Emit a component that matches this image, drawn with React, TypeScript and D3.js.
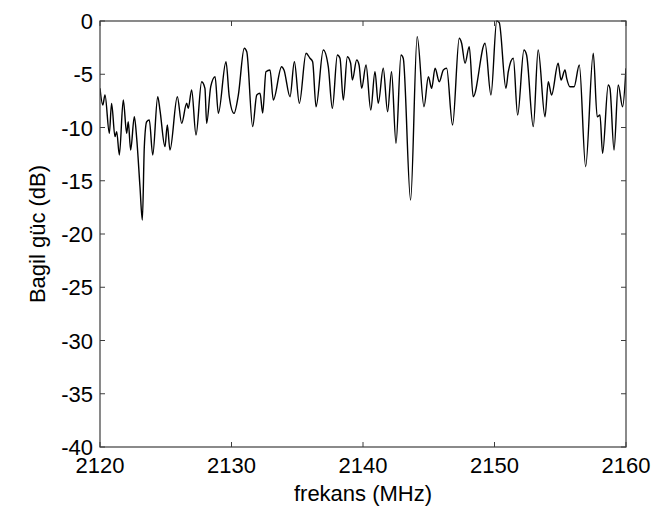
import React, { useEffect, useRef } from "react";
import * as d3 from "d3";

const freqMHz: number[] = [
  2120.0, 2120.21, 2120.38, 2120.71, 2120.88, 2121.14, 2121.27, 2121.47, 2121.77, 2122.03,
  2122.15, 2122.33, 2122.61, 2122.79, 2123.04, 2123.22, 2123.37, 2123.55, 2123.75, 2124.01,
  2124.39, 2124.56, 2124.94, 2125.12, 2125.32, 2125.88, 2126.21, 2126.59, 2126.71, 2126.97,
  2127.3, 2127.73, 2127.98, 2128.11, 2128.42, 2128.75, 2129.0, 2129.58, 2129.83, 2130.19,
  2130.52, 2130.97, 2131.16, 2131.61, 2131.92, 2132.17, 2132.37, 2132.62, 2132.93, 2133.18,
  2133.81, 2133.99, 2134.45, 2134.78, 2135.16, 2135.67, 2135.97, 2136.17, 2136.43, 2136.98,
  2137.36, 2137.67, 2138.05, 2138.25, 2138.5, 2138.81, 2139.06, 2139.19, 2139.52, 2139.7,
  2139.9, 2140.23, 2140.59, 2140.91, 2141.16, 2141.54, 2141.87, 2142.17, 2142.51, 2142.89,
  2143.06, 2143.62, 2144.12, 2144.64, 2144.97, 2145.22, 2145.48, 2145.8, 2146.11, 2146.36,
  2146.81, 2147.32, 2147.5, 2147.76, 2148.08, 2148.38, 2149.28, 2149.73, 2150.17, 2150.36,
  2150.87, 2151.05, 2151.43, 2151.76, 2152.24, 2152.44, 2152.95, 2153.32, 2153.84, 2154.09,
  2154.34, 2154.84, 2155.06, 2155.36, 2155.49, 2155.74, 2156.05, 2156.45, 2156.93, 2157.51,
  2157.81, 2158.02, 2158.22, 2158.65, 2158.78, 2159.09, 2159.41, 2159.74, 2160.0,
];

const powerDb: number[] = [
  -6.32, -7.89, -6.95, -10.54, -7.73, -10.86, -10.39, -12.58, -7.42, -10.54,
  -9.46, -12.11, -8.99, -11.01, -15.56, -18.69, -11.8, -9.46, -9.3, -12.58,
  -7.11, -8.36, -11.8, -9.77, -12.11, -7.11, -9.61, -7.73, -8.2, -6.48,
  -10.7, -5.7, -6.32, -9.61, -6.17, -5.23, -8.67, -3.82, -7.11, -8.67,
  -6.95, -2.56, -2.88, -9.92, -6.95, -6.79, -8.64, -4.76, -4.6, -7.42,
  -4.29, -4.6, -7.11, -3.82, -7.73, -3.03, -3.5, -3.82, -8.05, -2.72,
  -4.29, -8.2, -3.19, -3.5, -7.42, -3.35, -3.97, -5.54, -3.66, -4.13,
  -6.32, -4.13, -8.36, -4.76, -7.73, -4.44, -8.52, -4.76, -11.48, -3.19,
  -3.5, -16.81, -1.47, -8.05, -5.23, -6.32, -4.44, -5.7, -4.6, -4.44,
  -9.77, -1.62, -2.09, -3.97, -2.41, -7.11, -2.09, -6.95, 0.0, -0.15,
  -6.32, -4.76, -3.5, -8.83, -2.72, -3.19, -9.92, -2.72, -8.99, -5.7,
  -6.95, -3.97, -5.54, -4.6, -5.38, -6.17, -6.17, -4.13, -13.68, -3.03,
  -8.99, -8.83, -12.42, -6.01, -6.32, -12.11, -6.01, -8.05, -4.44,
];

const xTicks: number[] = [2120, 2130, 2140, 2150, 2160];
const yTicks: number[] = [0, -5, -10, -15, -20, -25, -30, -35, -40];
const xTitle = "frekans (MHz)";
const yTitle = "Bagil güc (dB)";

const W = 661;
const H = 510;
const M = { left: 100, right: 626, top: 21, bottom: 447 };
const FONT = "'Liberation Sans', Arial, sans-serif";
const AXIS = "#3c3c3c";

export default function App() {
  const ref = useRef<SVGSVGElement | null>(null);

  useEffect(() => {
    const svg = d3.select(ref.current);
    svg.selectAll("*").remove();

    const x = d3.scaleLinear().domain([2120, 2160]).range([M.left, M.right]);
    const y = d3.scaleLinear().domain([-40, 0]).range([M.bottom, M.top]);

    svg.append("rect").attr("width", W).attr("height", H).attr("fill", "#fff");

    const pts = freqMHz.map((f, i) => [f, powerDb[i]] as [number, number]);
    const line = d3
      .line<[number, number]>()
      .x((d) => x(d[0]))
      .y((d) => y(d[1]))
      .curve(d3.curveMonotoneX);

    svg.append("defs").append("clipPath").attr("id", "plotclip")
      .append("rect")
      .attr("x", M.left).attr("y", M.top - 1)
      .attr("width", M.right - M.left).attr("height", M.bottom - M.top + 1);

    svg.append("path")
      .datum(pts)
      .attr("d", line)
      .attr("fill", "none")
      .attr("stroke", "#000")
      .attr("stroke-width", 1.4)
      .attr("stroke-linejoin", "round")
      .attr("clip-path", "url(#plotclip)");

    const tickLen = 5;
    const tg = svg.append("g").attr("stroke", AXIS).attr("stroke-width", 1);
    xTicks.forEach((t) => {
      const px = x(t);
      tg.append("line").attr("x1", px).attr("x2", px).attr("y1", M.bottom).attr("y2", M.bottom - tickLen);
      tg.append("line").attr("x1", px).attr("x2", px).attr("y1", M.top).attr("y2", M.top + tickLen);
    });
    yTicks.forEach((t) => {
      const py = y(t);
      tg.append("line").attr("x1", M.left).attr("x2", M.left + tickLen).attr("y1", py).attr("y2", py);
      tg.append("line").attr("x1", M.right).attr("x2", M.right - tickLen).attr("y1", py).attr("y2", py);
    });

    svg.append("rect")
      .attr("x", M.left).attr("y", M.top)
      .attr("width", M.right - M.left).attr("height", M.bottom - M.top)
      .attr("fill", "none").attr("stroke", AXIS).attr("stroke-width", 1.2);

    const fs = 22;
    svg.append("g").selectAll("text").data(xTicks).join("text")
      .attr("x", (d) => x(d))
      .attr("y", 473)
      .attr("text-anchor", "middle")
      .attr("font-family", FONT)
      .attr("font-size", fs)
      .attr("fill", "#000")
      .text((d) => String(d));

    svg.append("g").selectAll("text").data(yTicks).join("text")
      .attr("x", M.left - 7)
      .attr("y", (d) => y(d) + 8)
      .attr("text-anchor", "end")
      .attr("font-family", FONT)
      .attr("font-size", fs)
      .attr("fill", "#000")
      .text((d) => String(d));

    svg.append("text")
      .attr("x", (M.left + M.right) / 2)
      .attr("y", 501)
      .attr("text-anchor", "middle")
      .attr("font-family", FONT)
      .attr("font-size", fs)
      .attr("fill", "#000")
      .text(xTitle);

    svg.append("text")
      .attr("transform", `translate(45, ${(M.top + M.bottom) / 2}) rotate(-90)`)
      .attr("text-anchor", "middle")
      .attr("font-family", FONT)
      .attr("font-size", fs)
      .attr("fill", "#000")
      .text(yTitle);
  }, []);

  return (
    <svg
      ref={ref}
      width={W}
      height={H}
      style={{ position: "absolute", left: 0, top: 0, display: "block" }}
    />
  );
}
